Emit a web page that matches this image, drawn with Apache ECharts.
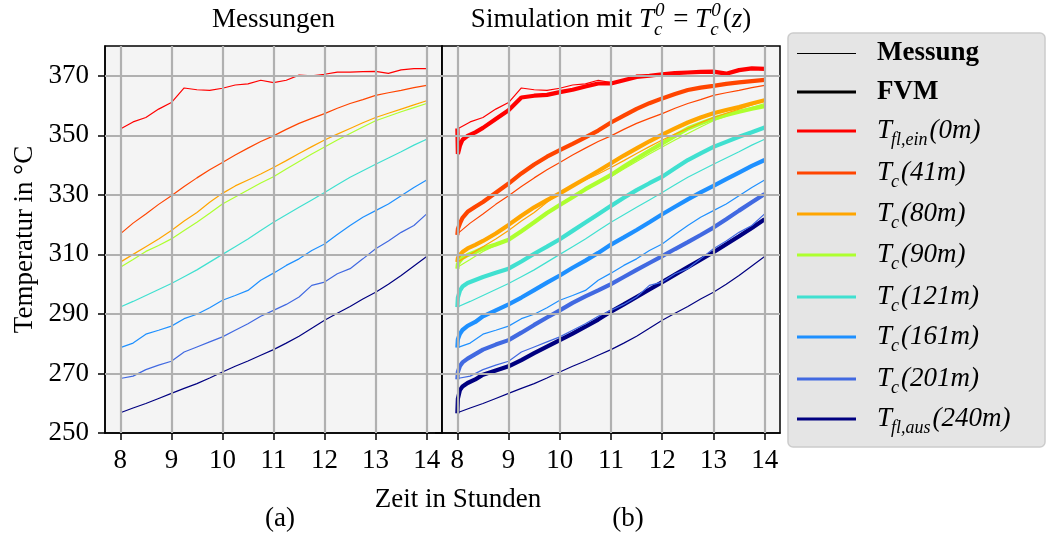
<!DOCTYPE html>
<html><head><meta charset="utf-8">
<script src="https://cdn.jsdelivr.net/npm/echarts@6/dist/echarts.min.js"></script>
<style>html,body{margin:0;padding:0;background:#fff}#c{width:1046px;height:534px}</style>
</head><body><div id="c"></div><script>
// ---- data ----
const times = [8,8.25,8.5,8.75,9,9.25,9.5,9.75,10,10.25,10.5,10.75,11,11.25,11.5,11.75,12,12.25,12.5,12.75,13,13.25,13.5,13.75,14];
const fvmTimes = [8,8.01,8.05,8.1,8.2,8.35,8.5,8.75,9,9.25,9.5,9.75,10,10.25,10.5,10.75,11,11.25,11.5,11.75,12,12.25,12.5,12.75,13,13.25,13.5,13.75,14];
const xTicks = [8,9,10,11,12,13,14];
const yTicks = [250,270,290,310,330,350,370];

// Messungen
const mT0   = [352.1,354.5,356.0,358.8,361.0,365.9,365.3,365.1,365.8,366.9,367.3,368.5,367.7,368.5,370.2,370.0,370.5,371.2,371.2,371.4,371.5,370.8,372.0,372.4,372.4];
const mT41  = [316.9,320.5,323.6,326.8,329.7,332.8,335.7,338.4,340.9,343.4,345.7,347.9,349.8,352.0,354.0,355.7,357.3,359.1,360.7,362.0,363.4,364.3,365.1,366.0,366.8];
const mT80  = [307.4,310.0,312.6,315.2,318.0,321.2,324.1,327.5,330.5,333.0,335.0,337.0,339.2,341.5,343.9,346.2,348.4,350.4,352.3,354.2,356.0,357.4,358.8,360.2,361.6];
const mT90  = [305.7,308.3,311.0,313.0,315.2,318.0,320.8,323.8,326.9,329.3,331.6,334.0,336.1,338.7,341.2,343.7,346.1,348.4,350.6,352.8,354.9,356.4,357.9,359.3,360.7];
const mT121 = [292.3,294.2,296.2,298.2,300.2,302.5,304.8,307.4,310.0,312.6,315.2,318.0,320.8,323.3,325.8,328.3,330.8,333.4,335.9,338.1,340.3,342.4,344.5,346.7,348.7];
const mT161 = [278.7,280.2,283.2,284.5,285.9,288.4,289.9,292.1,294.6,296.2,297.9,301.3,303.7,306.3,308.5,311.3,313.5,316.7,319.7,322.5,324.7,326.9,329.7,332.5,335.0];
const mT201 = [268.3,269.1,271.3,272.8,274.1,277.2,278.9,280.6,282.3,284.5,286.7,289.2,291.2,293.2,295.7,299.6,300.7,303.5,305.2,308.5,311.9,314.5,317.4,319.7,323.6];
const mT240 = [256.8,258.4,259.9,261.6,263.3,265.0,266.6,268.5,270.5,272.4,274.2,276.1,278.0,280.2,282.5,285.2,287.9,290.2,292.5,295.0,297.3,300.0,302.9,306.1,309.3];

// FVM
const fT0   = [352.3,343.7,346.5,348.5,349.8,351.0,352.5,355.5,358.4,362.7,363.3,363.6,364.5,365.3,366.4,367.4,367.4,368.5,369.6,370.0,370.5,370.9,371.1,371.3,371.4,370.7,371.9,372.5,372.3];
const fT41  = [316.5,318.5,320.4,322.3,324.3,326.0,327.6,330.7,333.8,337.2,340.2,342.8,345.0,347.1,349.3,351.6,354.3,356.6,358.9,360.8,362.4,363.9,365.2,366.0,366.6,367.3,367.8,368.2,368.6];
const fT80  = [307.4,308.8,309.8,310.8,312.0,313.2,314.5,317.0,319.9,323.0,325.8,328.2,330.5,333.0,335.5,338.0,340.6,343.2,345.6,348.0,350.2,352.3,354.3,356.0,357.4,358.5,359.5,360.7,361.8];
const fT90  = [305.2,306.8,307.8,308.8,309.8,310.8,312.0,313.3,314.9,317.8,320.8,323.9,326.6,329.2,331.9,334.3,336.7,339.5,342.2,344.8,347.3,349.8,352.3,354.0,355.6,356.8,357.9,358.9,359.8];
const fT121 = [292.3,295.5,297.8,299.2,300.4,301.4,302.4,303.8,305.2,307.6,310.2,312.6,315.1,317.9,320.7,323.5,326.3,329.0,331.6,333.9,336.1,338.9,341.7,343.9,346.1,347.8,349.5,351.0,352.6];
const fT161 = [278.7,281.5,283.3,284.6,286.0,287.3,289.2,291.2,293.2,295.5,298.0,300.5,302.9,305.5,307.9,310.5,313.3,315.7,318.2,320.8,323.5,326.0,328.5,330.8,333.0,335.3,337.5,339.7,341.7];
const fT201 = [268.0,270.5,272.5,273.7,275.0,276.5,278.0,279.7,281.2,283.7,286.3,288.8,291.2,293.7,295.9,297.9,300.0,302.4,304.8,307.1,309.4,311.8,314.1,316.5,319.0,321.8,324.7,327.5,330.3];
const fT240 = [256.6,261.5,264.4,265.6,266.8,268.0,269.6,271.0,272.4,274.5,276.8,279.0,281.2,283.4,285.7,288.1,290.8,293.2,295.7,298.2,300.7,303.2,305.7,308.2,310.7,313.4,316.1,318.9,321.8];

const colors = ['#ff0000','#ff4500','#ffa500','#adff2f','#40e0d0','#1e90ff','#4169e1','#000080'];
const legendMain = ['T','T','T','T','T','T','T','T'];
const legendSub  = ['fl,ein','c','c','c','c','c','c','fl,aus'];
const legendArg  = ['(0m)','(41m)','(80m)','(90m)','(121m)','(161m)','(201m)','(240m)'];
const measSets = [mT0,mT41,mT80,mT90,mT121,mT161,mT201,mT240];
const fvmSets  = [fT0,fT41,fT80,fT90,fT121,fT161,fT201,fT240];

// ---- chart ----
const FF = '"Liberation Serif", "Times New Roman", serif';
const FS = 27;
const ctx = document.createElement('canvas').getContext('2d');
function tw(t, size, italic, bold){ ctx.font = (italic?'italic ':'') + (bold?'bold ':'') + size + 'px ' + FF; return ctx.measureText(t).width; }
function T(t, x, y, size, italic, bold, align){
  const font = (italic?'italic ':'') + (bold?'bold ':'') + size + 'px ' + FF;
  return {type:'text', x:x, y:y, z:100, silent:true,
    style:{text:t, font:font, fill:'#000', align:align||'left', verticalAlign:'middle', textAlign:align||'left', textVerticalAlign:'middle'}};
}
function pairs(xs, ys){ return xs.map((x,i)=>[x, ys[i]]); }

const series = [];
// grid lines through the axes' scales
for (let g=0; g<2; g++){
  series.push({type:'line', xAxisIndex:g, yAxisIndex:g, data:[[8,250]], symbol:'none', showSymbol:false,
    lineStyle:{opacity:0}, z:1, animation:false, silent:true,
    markLine:{silent:true, symbol:['none','none'], animation:false, label:{show:false},
      lineStyle:{color:'#b0b0b0', width:2.2, type:'solid'},
      data: xTicks.map(v=>({xAxis:v})).concat(yTicks.slice(1).map(v=>({yAxis:v})))}});
}
for (let i=0;i<8;i++){
  series.push({type:'line', xAxisIndex:0, yAxisIndex:0, data:pairs(times, measSets[i]), showSymbol:false, symbol:'none',
    lineStyle:{color:colors[i], width:1.2}, z:3, animation:false});
}
for (let i=0;i<8;i++){
  series.push({type:'line', xAxisIndex:1, yAxisIndex:1, data:pairs(fvmTimes, fvmSets[i]), showSymbol:false, symbol:'none',
    lineStyle:{color:colors[i], width:4.2}, z:3, animation:false});
}
for (let i=0;i<8;i++){
  series.push({type:'line', xAxisIndex:1, yAxisIndex:1, data:pairs(times, measSets[i]), showSymbol:false, symbol:'none',
    lineStyle:{color:colors[i], width:1.2}, z:4, animation:false});
}

function xAxis(gi){
  return {gridIndex:gi, type:'value', min:7.7, max:14.3,
    axisLine:{show:true, onZero:false, lineStyle:{color:'#000', width:1.5}},
    axisTick:{show:true, customValues:xTicks, length:7, lineStyle:{color:'#000', width:1.5}},
    axisLabel:{show:true, customValues:xTicks, margin:14, fontSize:FS, fontFamily:FF, color:'#000'},
    splitLine:{show:false}};
}
function yAxis(gi, labels){
  return {gridIndex:gi, type:'value', min:250, max:380,
    axisLine:{show:true, onZero:false, lineStyle:{color:'#000', width:1.5}},
    axisTick:{show:true, customValues:yTicks, length:7, lineStyle:{color:'#000', width:1.5}},
    axisLabel:{show:labels, customValues:yTicks, margin:16, fontSize:FS, fontFamily:FF, color:'#000'},
    splitLine:{show:false},
    name: labels ? 'Temperatur in °C' : '', nameLocation:'middle', nameGap:67, nameRotate:90,
    nameTextStyle:{fontSize:FS, fontFamily:FF, color:'#000'}};
}

// graphic texts
const graphics = [];
graphics.push(T('Messungen', 273.5, 20, FS, false, false, 'center'));
(function(){
  const sm = 19;
  const parts = [
    {t:'Simulation mit ', it:false},
    {t:'T', it:true},
    {stack:['0','c']},
    {t:' = ', it:false},
    {t:'T', it:true},
    {stack:['0','c']},
    {t:'(', it:false}, {t:'z', it:true}, {t:')', it:false}
  ];
  let total = 0;
  parts.forEach(p=>{ p.w = p.stack ? Math.max(tw(p.stack[0],sm,true), tw(p.stack[1],sm,true)) + 3 : tw(p.t, FS, p.it); total += p.w; });
  let x = 611 - total/2; const y = 20;
  parts.forEach(p=>{
    if (p.stack){
      graphics.push(T(p.stack[0], x + 1, y-9, sm, true));
      graphics.push(T(p.stack[1], x, y+10, sm, true));
    } else graphics.push(T(p.t, x, y, FS, p.it));
    x += p.w;
  });
})();
graphics.push(T('Zeit in Stunden', 458, 500, FS, false, false, 'center'));
graphics.push(T('(a)', 280, 519, FS, false, false, 'center'));
graphics.push(T('(b)', 628, 519, FS, false, false, 'center'));

// legend box
graphics.push({type:'rect', z:90, silent:true, shape:{x:788, y:33, width:257, height:414, r:5},
  style:{fill:'#e5e5e5', stroke:'#cccccc', lineWidth:1.5}});
const lx1 = 797, lx2 = 856, tx = 877;
graphics.push({type:'line', z:95, silent:true, shape:{x1:lx1,y1:53.5,x2:lx2,y2:53.5}, style:{stroke:'#000', lineWidth:1}});
graphics.push(T('Messung', tx, 53, FS, false, true));
graphics.push({type:'line', z:95, silent:true, shape:{x1:lx1,y1:92,x2:lx2,y2:92}, style:{stroke:'#000', lineWidth:3}});
graphics.push(T('FVM', tx, 92, FS, false, true));
const rowY = [131, 173, 214, 255, 297, 337, 379, 419];
for (let i=0;i<8;i++){
  const y = rowY[i];
  graphics.push({type:'line', z:95, silent:true, shape:{x1:lx1,y1:y,x2:lx2,y2:y}, style:{stroke:colors[i], lineWidth:3}});
  let x = tx;
  graphics.push(T(legendMain[i], x, y, FS, true)); x += tw(legendMain[i], FS, true);
  graphics.push(T(legendSub[i], x - 1, y + 9, 18, true)); x += tw(legendSub[i], 18, true);
  graphics.push(T(legendArg[i], x + 1, y, FS, true));
}

const chart = echarts.init(document.getElementById('c'), null, {renderer:'canvas'});
chart.setOption({
  animation:false,
  backgroundColor:'#ffffff',
  grid:[
    {left:105, top:46, width:337, height:387, show:true, backgroundColor:'#f4f4f4', borderColor:'#000', borderWidth:1.5, containLabel:false},
    {left:442, top:46, width:338, height:387, show:true, backgroundColor:'#f4f4f4', borderColor:'#000', borderWidth:1.5, containLabel:false}
  ],
  xAxis:[xAxis(0), xAxis(1)],
  yAxis:[yAxis(0,true), yAxis(1,false)],
  series:series,
  graphic:graphics
});
</script></body></html>
